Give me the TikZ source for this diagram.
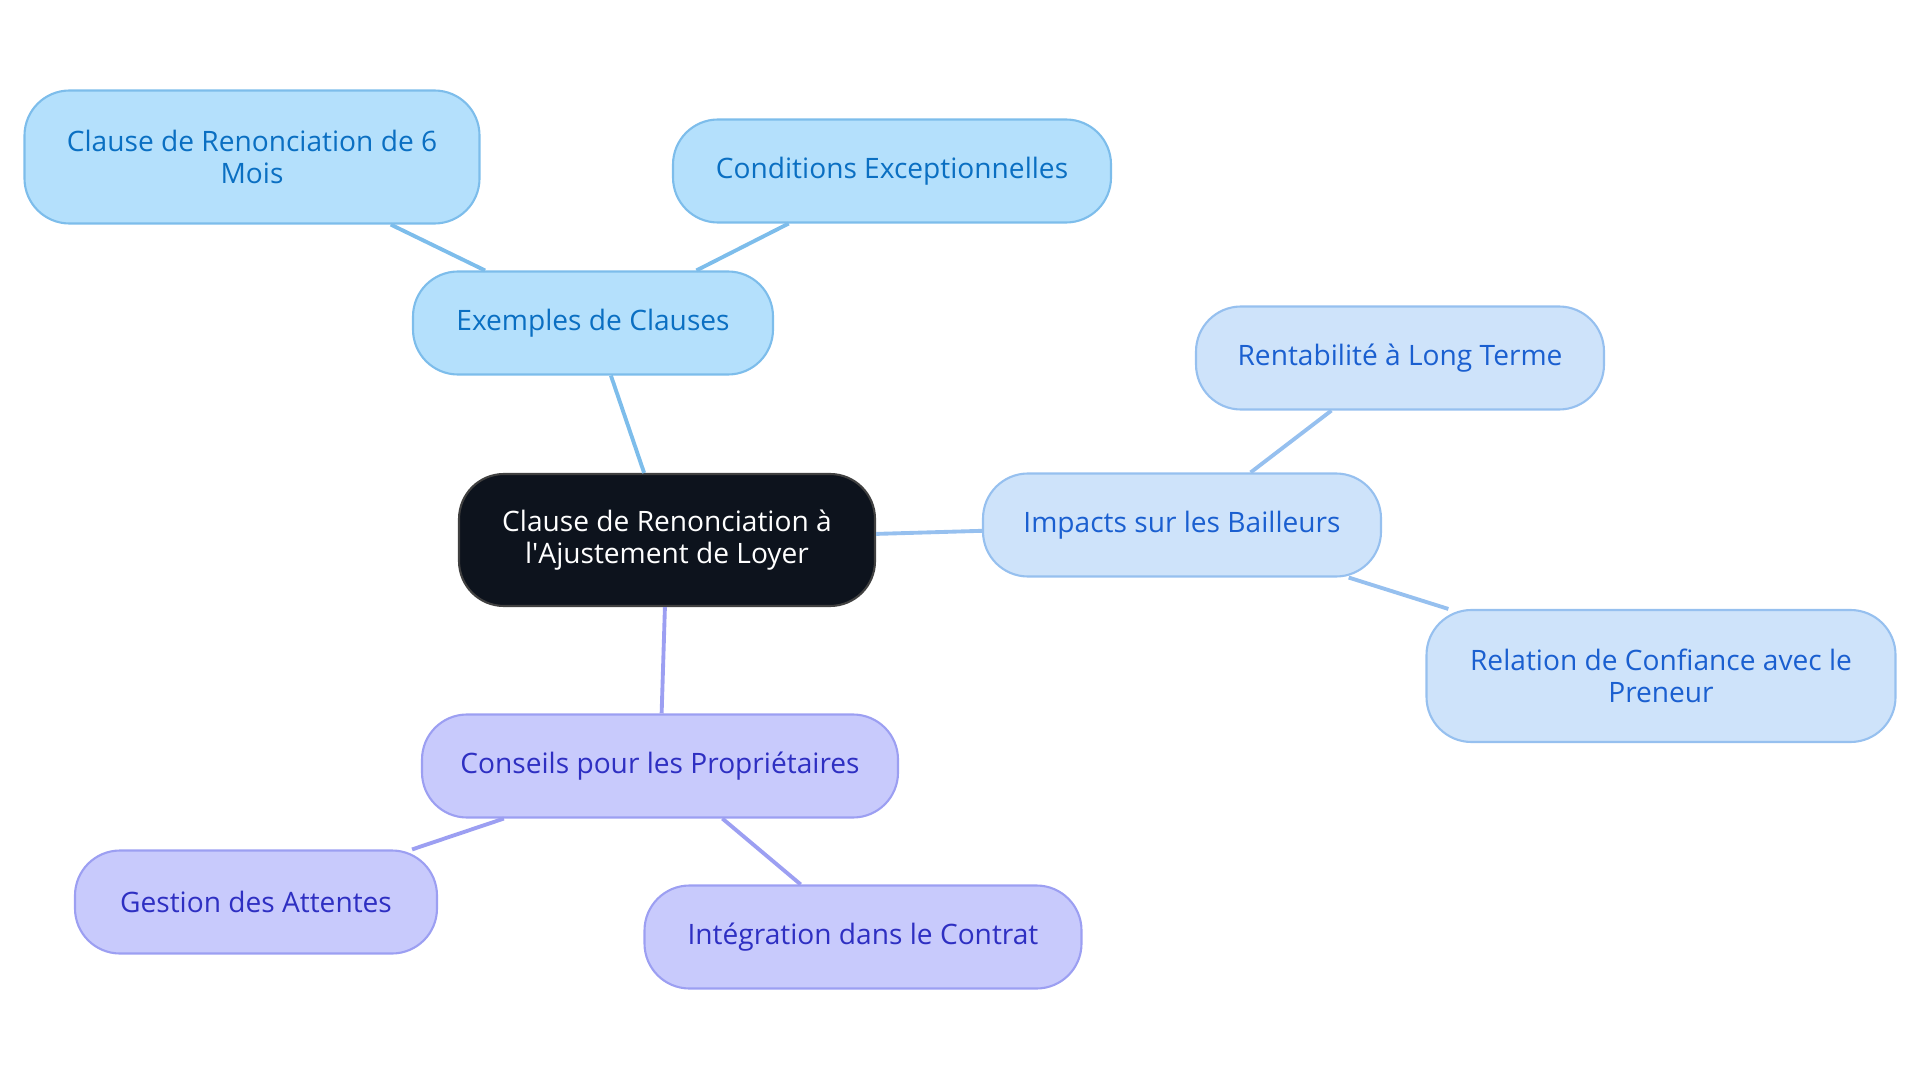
\documentclass[tikz,border=0pt]{standalone}
\usepackage{fontspec}
\setmainfont{Open Sans}
\usepackage{tikz}
\usetikzlibrary{positioning}

\definecolor{rootfill}{HTML}{0D131D}
\definecolor{bluefill}{HTML}{B4E0FC}
\definecolor{bluedraw}{HTML}{7DBDEB}
\definecolor{bluetext}{HTML}{0A6FC2}
\definecolor{skyfill}{HTML}{CEE3FA}
\definecolor{skydraw}{HTML}{96C0EF}
\definecolor{skytext}{HTML}{1A5FD0}
\definecolor{lilafill}{HTML}{C8CAFC}
\definecolor{liladraw}{HTML}{9C9FF2}
\definecolor{lilatext}{HTML}{2E2FC2}

\tikzset{
  mm node/.style={
    rectangle, rounded corners=0.45cm, line width=0.6pt,
    minimum height=1.03cm, align=center,
    font=\fontsize{8}{9.2}\selectfont, inner sep=2pt
  },
  mm root/.style={
    mm node, fill=rootfill, draw=black!75, text=white,
    minimum height=1.32cm
  },
  mm blue/.style={mm node, fill=bluefill, draw=bluedraw, text=bluetext},
  mm sky/.style={mm node, fill=skyfill, draw=skydraw, text=skytext},
  mm lila/.style={mm node, fill=lilafill, draw=liladraw, text=lilatext},
  mm link/.style={line width=1.1pt}
}

\begin{document}
\begin{tikzpicture}
\useasboundingbox (0,0) rectangle (19.2,-10.83);

% ====== centre ======
\node[mm root, minimum width=4.16cm] (root) at (6.67,-5.40)
  {Clause de Renonciation à\\l\textquotesingle Ajustement de Loyer};

% ====== branch: Exemples de Clauses ======
\node[mm blue, minimum width=3.60cm] (exemples) at (5.93,-3.23) {Exemples de Clauses};
\node[mm blue, minimum width=4.55cm, minimum height=1.33cm] (sixmois) at (2.52,-1.57)
  {Clause de Renonciation de 6\\Mois};
\node[mm blue, minimum width=4.38cm] (except) at (8.92,-1.71) {Conditions Exceptionnelles};

% ====== branch: Impacts sur les Bailleurs ======
\node[mm sky, minimum width=3.98cm] (impacts) at (11.82,-5.25) {Impacts sur les Bailleurs};
\node[mm sky, minimum width=4.08cm] (rentab) at (14.00,-3.58) {Rentabilité à Long Terme};
\node[mm sky, minimum width=4.69cm, minimum height=1.32cm] (confiance) at (16.61,-6.76)
  {Relation de Confiance avec le\\Preneur};

% ====== branch: Conseils pour les Propriétaires ======
\node[mm lila, minimum width=4.76cm] (conseils) at (6.60,-7.66) {Conseils pour les Propriétaires};
\node[mm lila, minimum width=3.62cm] (attentes) at (2.56,-9.02) {Gestion des Attentes};
\node[mm lila, minimum width=4.37cm] (contrat) at (8.63,-9.37) {Intégration dans le Contrat};

% -- links --
\draw[mm link, draw=bluedraw] (root) -- (exemples);
\draw[mm link, draw=bluedraw] (exemples) -- (sixmois);
\draw[mm link, draw=bluedraw] (exemples) -- (except);
\draw[mm link, draw=skydraw] (root) -- (impacts);
\draw[mm link, draw=skydraw] (impacts) -- (rentab);
\draw[mm link, draw=skydraw] (impacts) -- (confiance);
\draw[mm link, draw=liladraw] (root) -- (conseils);
\draw[mm link, draw=liladraw] (conseils) -- (attentes);
\draw[mm link, draw=liladraw] (conseils) -- (contrat);

\end{tikzpicture}
\end{document}
